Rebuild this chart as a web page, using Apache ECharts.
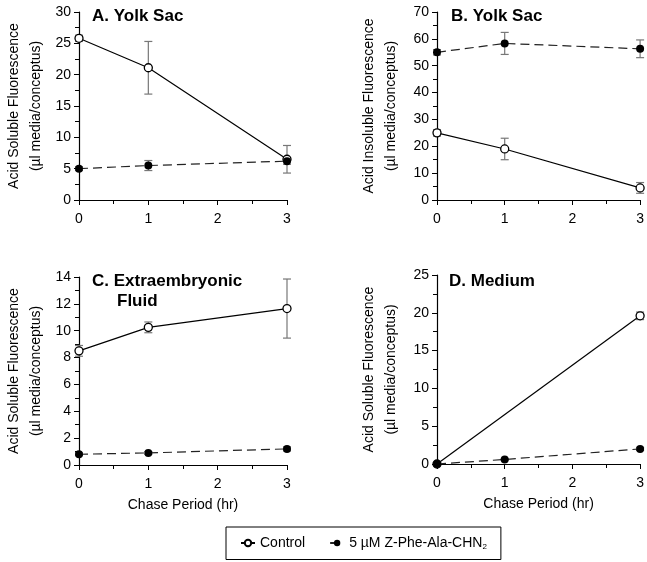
<!DOCTYPE html>
<html>
<head>
<meta charset="utf-8">
<script src="https://cdn.jsdelivr.net/npm/echarts@6/dist/echarts.min.js"></script>
<style>
	html, body { margin: 0; padding: 0; background: #fff; }
	#chart { width: 647px; height: 562px; }
</style>
</head>
<body>
<div id="chart"></div>
<script>
// chase period (hr)
var hours = [0, 1, 3];

// A. Yolk Sac, acid soluble
var aControl = [25.8, 21.1, 6.5];
var aControlErr = [0.5, 4.2, 2.2];
var aInhib = [5.0, 5.5, 6.2];
var aInhibErr = [0.3, 0.8, 0.5];

// B. Yolk Sac, acid insoluble
var bControl = [25, 19, 4.5];
var bControlErr = [1.2, 4.0, 2.0];
var bInhib = [55, 58.3, 56.3];
var bInhibErr = [1.0, 4.1, 3.3];

// C. Extraembryonic fluid
var cControl = [8.5, 10.25, 11.65];
var cControlErr = [0.4, 0.4, 2.2];
var cInhib = [0.8, 0.9, 1.2];
var cInhibErr = [0.1, 0.1, 0.15];

// D. Medium (no control value at 1 hr)
var dControl = [0, null, 19.6];
var dControlErr = [0, 0, 0.5];
var dInhib = [0, 0.6, 2.0];
var dInhibErr = [0.05, 0.1, 0.2];

var yMax = [30, 70, 14, 25];
var yStep = [5, 10, 2, 5];
var yNames = [
	'Acid Soluble Fluorescence\n(µl media/conceptus)',
	'Acid Insoluble Fluorescence\n(µl media/conceptus)',
	'Acid Soluble Fluorescence\n(µl media/conceptus)',
	'Acid Soluble Fluorescence\n(µl media/conceptus)'
];
var ctrlName = 'Control';
var inhibName = '5 µM Z-Phe-Ala-CHN2';

var font = 'Liberation Sans, Arial, sans-serif';

var grids = [
	{left: 79, right: 360, top: 12, bottom: 362},
	{left: 437, right: 3, top: 12, bottom: 362},
	{left: 79, right: 360, top: 277, bottom: 97},
	{left: 437, right: 3, top: 275, bottom: 98}
];

var pairs = function(vals) {
	var out = [];
	for (var i = 0; i < hours.length; i++) {
		out.push([hours[i], vals[i]]);
	}
	return out;
};
var errs = function(vals, e) {
	var out = [];
	for (var i = 0; i < hours.length; i++) {
		if (vals[i] == null) continue;
		out.push([hours[i], vals[i] - e[i], vals[i] + e[i]]);
	}
	return out;
};

var errorBar = function(params, api) {
	var x = api.value(0);
	var lo = api.coord([x, api.value(1)]);
	var hi = api.coord([x, api.value(2)]);
	var w = 4;
	var st = {stroke: '#777', lineWidth: 1.2};
	return {
		type: 'group',
		children: [
			{type: 'line', shape: {x1: lo[0], y1: lo[1], x2: hi[0], y2: hi[1]}, style: st},
			{type: 'line', shape: {x1: lo[0] - w, y1: lo[1], x2: lo[0] + w, y2: lo[1]}, style: st},
			{type: 'line', shape: {x1: hi[0] - w, y1: hi[1], x2: hi[0] + w, y2: hi[1]}, style: st}
		]
	};
};

var panels = [
	[aControl, aControlErr, aInhib, aInhibErr],
	[bControl, bControlErr, bInhib, bInhibErr],
	[cControl, cControlErr, cInhib, cInhibErr],
	[dControl, dControlErr, dInhib, dInhibErr]
];

var xAxes = [], yAxes = [], series = [];
for (var g = 0; g < 4; g++) {
	xAxes.push({
		gridIndex: g,
		type: 'value',
		min: 0, max: 3, interval: 1,
		name: g >= 2 ? 'Chase Period (hr)' : '',
		nameLocation: 'middle',
		nameGap: 33,
		nameTextStyle: {fontFamily: font, fontSize: 14, color: '#000'},
		axisLine: {onZero: false, lineStyle: {color: '#000', width: 1.2}},
		axisTick: {length: 5, lineStyle: {color: '#000'}},
		minorTick: {show: true, splitNumber: 2, length: 4, lineStyle: {color: '#000'}},
		splitLine: {show: false},
		axisLabel: {fontFamily: font, fontSize: 14, color: '#000', margin: 12}
	});
	yAxes.push({
		gridIndex: g,
		type: 'value',
		min: 0, max: yMax[g], interval: yStep[g],
		name: yNames[g],
		nameLocation: 'middle',
		nameGap: g % 2 ? 35 : 32,
		nameTextStyle: {fontFamily: font, fontSize: 14, color: '#000', lineHeight: 22},
		axisLine: {show: true, lineStyle: {color: '#000', width: 1.2}},
		axisTick: {length: 5, lineStyle: {color: '#000'}},
		minorTick: {show: true, splitNumber: 2, length: 4, lineStyle: {color: '#000'}},
		splitLine: {show: false},
		axisLabel: {fontFamily: font, fontSize: 14, color: '#000', margin: 8}
	});
	var p = panels[g];
	series.push({
		name: 'err-c' + g, type: 'custom', xAxisIndex: g, yAxisIndex: g,
		renderItem: errorBar, data: errs(p[0], p[1]), z: 1
	});
	series.push({
		name: 'err-i' + g, type: 'custom', xAxisIndex: g, yAxisIndex: g,
		renderItem: errorBar, data: errs(p[2], p[3]), z: 1
	});
	series.push({
		name: ctrlName, type: 'line', xAxisIndex: g, yAxisIndex: g,
		data: pairs(p[0]), connectNulls: true,
		symbol: 'circle', symbolSize: 8,
		itemStyle: {color: '#fff', borderColor: '#000', borderWidth: 1.3},
		lineStyle: {color: '#000', width: 1.2},
		z: 3
	});
	series.push({
		name: inhibName, type: 'line', xAxisIndex: g, yAxisIndex: g,
		data: pairs(p[2]),
		symbol: 'circle', symbolSize: 8,
		itemStyle: {color: '#000'},
		lineStyle: {color: '#222', width: 1.2, type: [9, 5]},
		z: 4
	});
}

var titleStyle = {fontFamily: font, fontSize: 17, fontWeight: 'bold', color: '#000'};
var option = {
	animation: false,
	backgroundColor: '#fff',
	title: [
		{text: 'A. Yolk Sac', left: 92, top: 8, padding: 0, textStyle: titleStyle},
		{text: 'B. Yolk Sac', left: 451, top: 8, padding: 0, textStyle: titleStyle},
		{text: 'C. Extraembryonic', left: 92, top: 273, padding: 0, textStyle: titleStyle},
		{text: 'Fluid', left: 117, top: 293, padding: 0, textStyle: titleStyle},
		{text: 'D. Medium', left: 449, top: 273, padding: 0, textStyle: titleStyle}
	],
	grid: grids,
	xAxis: xAxes,
	yAxis: yAxes,
	legend: {
		data: [ctrlName, inhibName],
		left: 226, top: 527,
		width: 274,
		padding: [9, 14, 9, 14],
		itemGap: 24,
		itemWidth: 14, itemHeight: 8,
		borderColor: '#000', borderWidth: 1,
		formatter: function(name) {
			return name === inhibName ? '5 µM Z-Phe-Ala-CHN{sub|2}' : name;
		},
		textStyle: {
			fontFamily: font, fontSize: 14, color: '#000',
			rich: {sub: {fontSize: 8, verticalAlign: 'bottom', padding: [7, 0, 0, 0]}}
		}
	},
	series: series
};

var chart = echarts.init(document.getElementById('chart'));
chart.setOption(option);
</script>
</body>
</html>
